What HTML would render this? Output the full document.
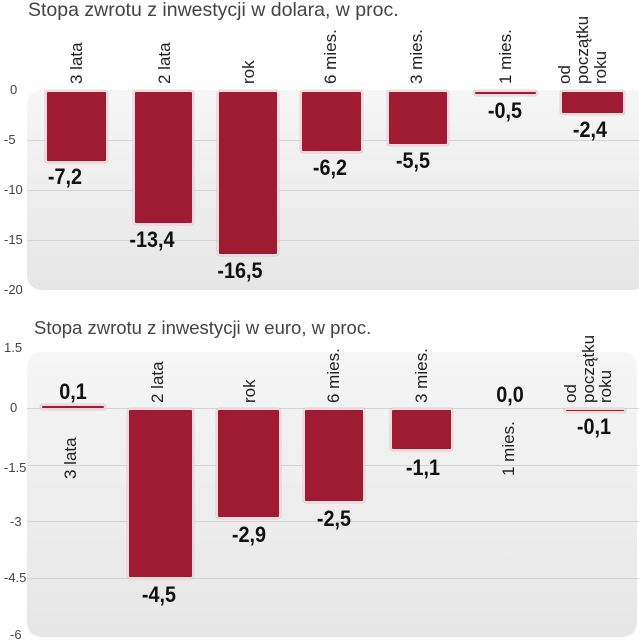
<html><head><style>
body{margin:0;width:639px;height:640px;background:#fff;font-family:"Liberation Sans",sans-serif;position:relative;overflow:hidden}
.t{position:absolute;color:#444;white-space:nowrap}
.bg{position:absolute;border-radius:14px;background:linear-gradient(#f6f6f6,#e6e6e6)}
.g{position:absolute;height:1px;background:#d4d4d4}
.b{position:absolute;background:#9e1b32;border:2px solid #f0d8dc;border-radius:3px;box-shadow:0 0 1px #999;box-sizing:border-box}
.v{position:absolute;font-weight:bold;font-size:22px;color:#111;white-space:nowrap;transform:translateX(-50%) scaleX(0.9);font-family:"Liberation Sans Narrow","Liberation Sans",sans-serif}
.y{position:absolute;font-size:13px;color:#444;left:4px}
.r{position:absolute;font-size:17px;color:#222;white-space:nowrap;transform-origin:0 0;transform:rotate(-90deg);line-height:17px}
</style></head><body>
<div class="t" style="left:28px;top:-1px;font-size:19.5px">Stopa zwrotu z inwestycji w dolara, w proc.</div>
<div class="bg" style="left:27px;top:90px;width:620px;height:200px"></div>
<div class="g" style="left:27px;top:140px;width:612px"></div>
<div class="g" style="left:27px;top:190px;width:612px"></div>
<div class="g" style="left:27px;top:240px;width:612px"></div>
<div class="y" style="top:82px;left:10px">0</div>
<div class="y" style="top:132px">-5</div>
<div class="y" style="top:182px">-10</div>
<div class="y" style="top:232px">-15</div>
<div class="y" style="top:282px">-20</div>
<div class="b" style="left:45px;top:90px;width:63px;height:73px"></div>
<div class="b" style="left:133px;top:90px;width:61px;height:135px"></div>
<div class="b" style="left:217px;top:90px;width:62px;height:166px"></div>
<div class="b" style="left:300px;top:90px;width:63px;height:63px"></div>
<div class="b" style="left:387px;top:90px;width:62px;height:56px"></div>
<div class="b" style="left:473px;top:90px;width:65px;height:6px"></div>
<div class="b" style="left:560px;top:90px;width:65px;height:25px"></div>
<div class="v" style="left:65px;top:164px">-7,2</div>
<div class="v" style="left:152px;top:227px">-13,4</div>
<div class="v" style="left:240px;top:258px">-16,5</div>
<div class="v" style="left:330px;top:155px">-6,2</div>
<div class="v" style="left:413px;top:148px">-5,5</div>
<div class="v" style="left:505px;top:98px">-0,5</div>
<div class="v" style="left:590px;top:117px">-2,4</div>
<div class="r" style="left:68px;top:84px">3 lata</div>
<div class="r" style="left:156px;top:84px">2 lata</div>
<div class="r" style="left:240px;top:84px">rok</div>
<div class="r" style="left:322px;top:84px">6 mies.</div>
<div class="r" style="left:408px;top:84px">3 mies.</div>
<div class="r" style="left:497px;top:84px">1 mies.</div>
<div class="r" style="left:556px;top:84px">od</div>
<div class="r" style="left:574px;top:84px">początku</div>
<div class="r" style="left:592px;top:84px">roku</div>

<div class="t" style="left:34px;top:317px;font-size:18.5px">Stopa zwrotu z inwestycji w euro, w proc.</div>
<div class="bg" style="left:27px;top:352px;width:610px;height:285px"></div>
<div class="g" style="left:27px;top:408px;width:612px"></div>
<div class="g" style="left:27px;top:465px;width:612px"></div>
<div class="g" style="left:27px;top:521px;width:612px"></div>
<div class="g" style="left:27px;top:578px;width:612px"></div>
<div class="y" style="top:340px">1.5</div>
<div class="y" style="top:400px;left:10px">0</div>
<div class="y" style="top:460px">-1.5</div>
<div class="y" style="top:514px;left:10px">-3</div>
<div class="y" style="top:570px">-4.5</div>
<div class="y" style="top:627px;left:10px">-6</div>
<div class="b" style="left:40px;top:404px;width:66px;height:6px"></div>
<div class="b" style="left:127px;top:408px;width:67px;height:171px"></div>
<div class="b" style="left:216px;top:408px;width:65px;height:111px"></div>
<div class="b" style="left:303px;top:408px;width:62px;height:95px"></div>
<div class="b" style="left:390px;top:408px;width:63px;height:43px"></div>
<div class="b" style="left:564px;top:408px;width:62px;height:5px"></div>
<div class="v" style="left:73px;top:379px">0,1</div>
<div class="v" style="left:159px;top:582px">-4,5</div>
<div class="v" style="left:249px;top:522px">-2,9</div>
<div class="v" style="left:334px;top:506px">-2,5</div>
<div class="v" style="left:423px;top:455px">-1,1</div>
<div class="v" style="left:510px;top:382px">0,0</div>
<div class="v" style="left:594px;top:414px">-0,1</div>
<div class="r" style="left:62px;top:479px">3 lata</div>
<div class="r" style="left:149px;top:403px">2 lata</div>
<div class="r" style="left:241px;top:403px">rok</div>
<div class="r" style="left:325px;top:403px">6 mies.</div>
<div class="r" style="left:413px;top:403px">3 mies.</div>
<div class="r" style="left:500px;top:476px">1 mies.</div>
<div class="r" style="left:562px;top:403px">od</div>
<div class="r" style="left:580px;top:403px">początku</div>
<div class="r" style="left:597px;top:403px">roku</div>
</body></html>
